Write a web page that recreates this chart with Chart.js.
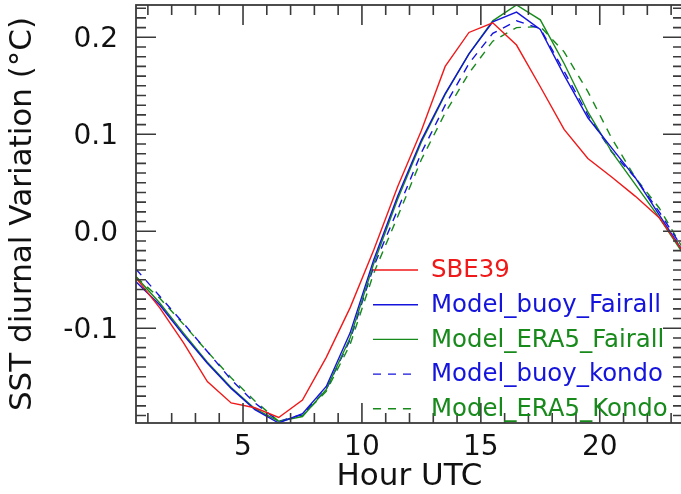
<!DOCTYPE html>
<html>
<head>
<meta charset="utf-8">
<script src="https://cdn.jsdelivr.net/npm/chart.js@4.4.1/dist/chart.umd.min.js"></script>
<style>
  html, body { margin: 0; padding: 0; background: #fff; overflow: hidden; }
  #wrap { width: 681px; height: 494px; overflow: hidden; }
  #box { width: 690px; height: 494px; }
</style>
</head>
<body>
<div id="wrap"><div id="box"><canvas id="sstChart"></canvas></div></div>
<script>
const hours = [0.5, 1.5, 2.5, 3.5, 4.5, 5.5, 6.5, 7.5, 8.5, 9.5, 10.5, 11.5,
               12.5, 13.5, 14.5, 15.5, 16.5, 17.5, 18.5, 19.5, 20.5, 21.5, 22.5, 23.5];

const sbe39 = [-0.048, -0.079, -0.115, -0.155, -0.177, -0.182, -0.192, -0.174, -0.130, -0.079, -0.019, 0.046,
               0.104, 0.170, 0.205, 0.215, 0.192, 0.149, 0.105, 0.075, 0.056, 0.036, 0.014, -0.021];
const buoyFairall = [-0.052, -0.076, -0.107, -0.136, -0.162, -0.184, -0.1977, -0.188, -0.160, -0.105, -0.029, 0.036,
                     0.094, 0.142, 0.183, 0.216, 0.226, 0.208, 0.161, 0.117, 0.086, 0.055, 0.017, -0.021];
const era5Fairall = [-0.047, -0.074, -0.105, -0.135, -0.161, -0.183, -0.196, -0.191, -0.163, -0.110, -0.033, 0.033,
                     0.092, 0.141, 0.183, 0.217, 0.2333, 0.218, 0.173, 0.123, 0.082, 0.048, 0.014, -0.023];
const buoyKondo = [-0.039, -0.067, -0.095, -0.124, -0.153, -0.177, -0.196, -0.189, -0.163, -0.112, -0.036, 0.022,
                   0.081, 0.130, 0.173, 0.204, 0.217, 0.209, 0.165, 0.120, 0.082, 0.055, 0.020, -0.018];
const era5Kondo = [-0.047, -0.069, -0.096, -0.124, -0.151, -0.175, -0.196, -0.190, -0.165, -0.117, -0.043, 0.015,
                   0.074, 0.122, 0.163, 0.196, 0.210, 0.211, 0.185, 0.144, 0.096, 0.055, 0.024, -0.018];

const seriesNames = ["SBE39", "Model_buoy_Fairall", "Model_ERA5_Fairall", "Model_buoy_kondo", "Model_ERA5_Kondo"];
const xTicks = [5, 10, 15, 20];
const yTicks = [-0.1, 0.0, 0.1, 0.2];

const RED = "#f01818";
const BLUE = "#1414dc";
const GREEN = "#178a1b";

function makeSet(label, values, color, dash) {
  return {
    label: label,
    data: hours.map((h, i) => ({ x: h, y: values[i] })),
    borderColor: color,
    backgroundColor: color,
    borderWidth: 1.4,
    borderDash: dash,
    pointRadius: 0,
    tension: 0,
    fill: false
  };
}

// IDL style frame: inward ticks on all four sides, plus minor ticks
const frameTicks = {
  id: "frameTicks",
  afterDatasetsDraw(chart) {
    const ctx = chart.ctx;
    const a = chart.chartArea;
    const xs = chart.scales.x;
    const ys = chart.scales.y;
    ctx.save();
    ctx.strokeStyle = "#3a3a3a";
    ctx.lineWidth = 1.8;
    ctx.strokeRect(a.left, a.top, a.right - a.left, a.bottom - a.top);
    ctx.lineWidth = 1.6;
    ctx.beginPath();
    for (let h = 1; h <= 23; h++) {
      const px = xs.getPixelForValue(h);
      const len = h % 5 === 0 ? 20 : 10;
      ctx.moveTo(px, a.bottom); ctx.lineTo(px, a.bottom - len);
      ctx.moveTo(px, a.top); ctx.lineTo(px, a.top + len);
    }
    for (let k = -19; k <= 23; k++) {
      const py = ys.getPixelForValue(k / 100);
      const len = k % 10 === 0 ? 20 : 10;
      ctx.moveTo(a.left, py); ctx.lineTo(a.left + len, py);
      ctx.moveTo(a.right, py); ctx.lineTo(a.right - len, py);
    }
    ctx.stroke();
    ctx.restore();
  }
};

// legend inside the plot, lines drawn with each dataset's own style
const insideLegend = {
  id: "insideLegend",
  afterDraw(chart) {
    const ctx = chart.ctx;
    ctx.save();
    ctx.font = "24.4px 'DejaVu Sans'";
    ctx.textBaseline = "middle";
    chart.data.datasets.forEach((ds, i) => {
      const y = 270 + i * 34.7;
      ctx.strokeStyle = ds.borderColor;
      ctx.lineWidth = 1.4;
      ctx.setLineDash(ds.borderDash || []);
      ctx.beginPath();
      ctx.moveTo(373, y);
      ctx.lineTo(418, y);
      ctx.stroke();
      ctx.setLineDash([]);
      ctx.fillStyle = ds.borderColor;
      ctx.fillText(ds.label, 431, y + 1);
    });
    ctx.restore();
  }
};

function noEdgePadding(s) {
  s.paddingTop = 0;
  s.paddingBottom = 0;
  s.paddingLeft = 0;
  s.paddingRight = 0;
}

window.onload = function () {
  const ctx = document.getElementById("sstChart").getContext("2d");
  new Chart(ctx, {
    type: "line",
    data: {
      datasets: [
        makeSet(seriesNames[0], sbe39, RED, []),
        makeSet(seriesNames[1], buoyFairall, BLUE, []),
        makeSet(seriesNames[2], era5Fairall, GREEN, []),
        makeSet(seriesNames[3], buoyKondo, BLUE, [8, 7]),
        makeSet(seriesNames[4], era5Kondo, GREEN, [8, 7])
      ]
    },
    options: {
      responsive: true,
      maintainAspectRatio: false,
      animation: false,
      layout: { padding: { top: 5, right: 7, left: 0, bottom: 0 } },
      plugins: { legend: { display: false }, tooltip: { enabled: false } },
      scales: {
        x: {
          type: "linear",
          min: 0.5,
          max: 23.5,
          grid: { display: false, drawTicks: false },
          border: { display: false },
          afterBuildTicks: s => { s.ticks = xTicks.map(v => ({ value: v })); },
          afterFit: s => { s.height = 71; noEdgePadding(s); },
          ticks: {
            color: "#111",
            font: { family: "DejaVu Sans", size: 28 },
            padding: 8,
            maxRotation: 0,
            callback: v => String(v)
          },
          title: {
            display: true,
            text: "Hour UTC",
            color: "#111",
            font: { family: "DejaVu Sans", size: 31 },
            padding: { top: 0, bottom: -1.5 }
          }
        },
        y: {
          min: -0.1977,
          max: 0.2333,
          grid: { display: false, drawTicks: false },
          border: { display: false },
          afterBuildTicks: s => { s.ticks = yTicks.map(v => ({ value: v })); },
          afterFit: s => { s.width = 136; noEdgePadding(s); },
          ticks: {
            color: "#111",
            font: { family: "DejaVu Sans", size: 28 },
            padding: 18,
            labelOffset: 2.5,
            callback: v => v.toFixed(1)
          },
          title: {
            display: true,
            text: "SST diurnal Variation (°C)",
            color: "#111",
            font: { family: "DejaVu Sans", size: 31 },
            padding: { top: 4, bottom: 0 }
          }
        }
      }
    },
    plugins: [frameTicks, insideLegend]
  });
};
</script>
</body>
</html>
